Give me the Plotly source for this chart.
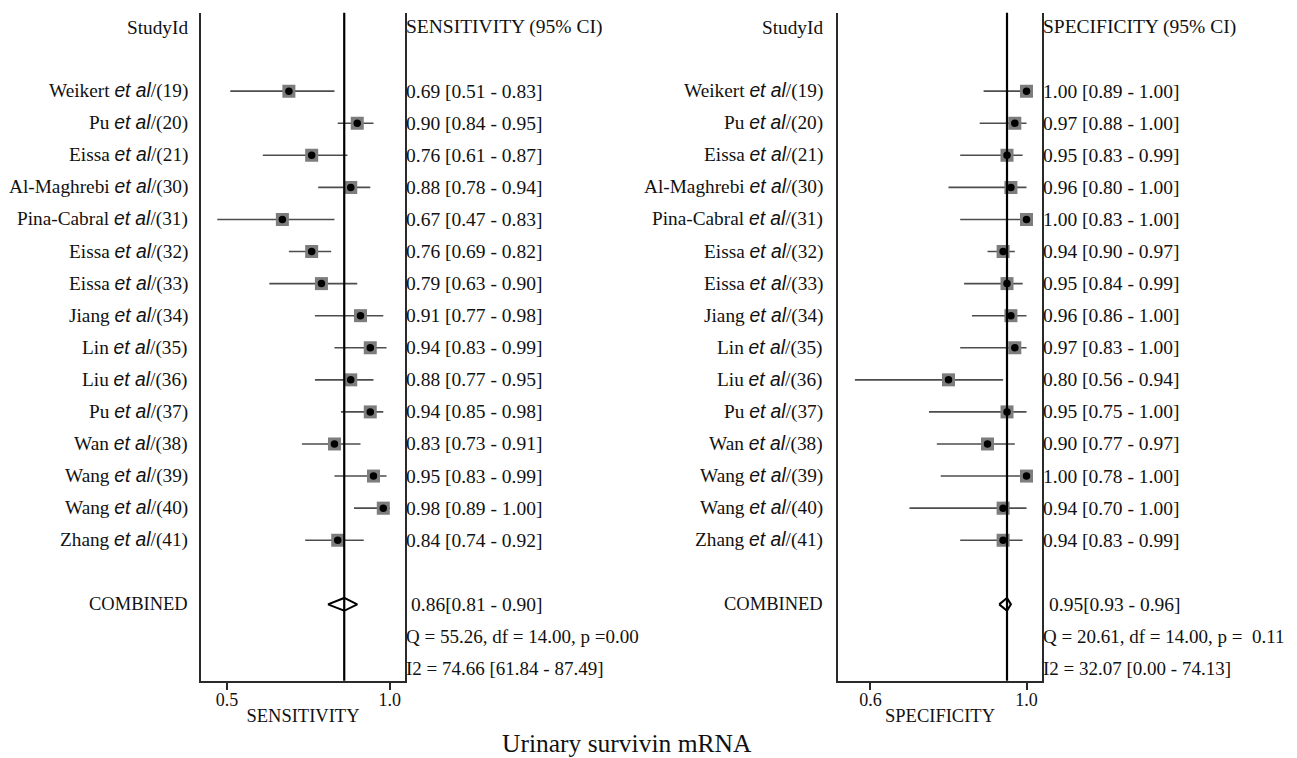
import plotly.graph_objects as go

# ---------------- data ----------------
study_names = ["Weikert", "Pu", "Eissa", "Al-Maghrebi", "Pina-Cabral", "Eissa", "Eissa",
               "Jiang", "Lin", "Liu", "Pu", "Wan", "Wang", "Wang", "Zhang"]
study_refs = [19, 20, 21, 30, 31, 32, 33, 34, 35, 36, 37, 38, 39, 40, 41]

sens_est = [0.69, 0.90, 0.76, 0.88, 0.67, 0.76, 0.79, 0.91, 0.94, 0.88, 0.94, 0.83, 0.95, 0.98, 0.84]
sens_lo = [0.51, 0.84, 0.61, 0.78, 0.47, 0.69, 0.63, 0.77, 0.83, 0.77, 0.85, 0.73, 0.83, 0.89, 0.74]
sens_hi = [0.83, 0.95, 0.87, 0.94, 0.83, 0.82, 0.90, 0.98, 0.99, 0.95, 0.98, 0.91, 0.99, 1.00, 0.92]
sens_pooled = [0.86, 0.81, 0.90]
sens_q = "Q = 55.26, df = 14.00, p =0.00"
sens_i2 = "I2 = 74.66 [61.84 - 87.49]"

spec_est = [1.00, 0.97, 0.95, 0.96, 1.00, 0.94, 0.95, 0.96, 0.97, 0.80, 0.95, 0.90, 1.00, 0.94, 0.94]
spec_lo = [0.89, 0.88, 0.83, 0.80, 0.83, 0.90, 0.84, 0.86, 0.83, 0.56, 0.75, 0.77, 0.78, 0.70, 0.83]
spec_hi = [1.00, 1.00, 0.99, 1.00, 1.00, 0.97, 0.99, 1.00, 1.00, 0.94, 1.00, 0.97, 1.00, 1.00, 0.99]
spec_pooled = [0.95, 0.93, 0.96]
spec_q = "Q = 20.61, df = 14.00, p = \u00a00.11"
spec_i2 = "I2 = 32.07 [0.00 - 74.13]"

sens_ticks = [0.5, 1.0]
spec_ticks = [0.6, 1.0]
title_text = "Urinary survivin mRNA"

# ---------------- layout helpers ----------------
W, H = 1297, 758
SERIF = "Liberation Serif, Times New Roman, serif"
TXT = "#111111"
FS_LAB = 19.3
FS_VAL = 19.5

study_rows = [2 + i for i in range(len(study_names))]
comb_row, q_row, i2_row = 18, 19, 20
y_range = [20.38, -0.446]


def px(x):
    return x / W


fig = go.Figure()

panels = [
    dict(xa="x", ya="y", est=sens_est, lo=sens_lo, hi=sens_hi, pooled=sens_pooled,
         q=sens_q, i2=sens_i2, head="SENSITIVITY (95% CI)", lab_x=190, val_x=404, comb_x=409),
    dict(xa="x2", ya="y2", est=spec_est, lo=spec_lo, hi=spec_hi, pooled=spec_pooled,
         q=spec_q, i2=spec_i2, head="SPECIFICITY (95% CI)", lab_x=825, val_x=1041, comb_x=1047),
]

for p in panels:
    # CI lines
    cx, cy = [], []
    for lo, hi, r in zip(p["lo"], p["hi"], study_rows):
        cx += [lo, hi, None]
        cy += [r, r, None]
    fig.add_trace(go.Scatter(x=cx, y=cy, mode="lines", xaxis=p["xa"], yaxis=p["ya"],
                             line=dict(color="#4d4d4d", width=1.6), hoverinfo="skip",
                             showlegend=False))
    # grey squares
    fig.add_trace(go.Scatter(x=p["est"], y=study_rows, mode="markers", xaxis=p["xa"], yaxis=p["ya"],
                             marker=dict(symbol="square", size=13, color="#7d7d7d",
                                         line=dict(width=0)), showlegend=False))
    # black dots
    fig.add_trace(go.Scatter(x=p["est"], y=study_rows, mode="markers", xaxis=p["xa"], yaxis=p["ya"],
                             marker=dict(symbol="circle", size=7.5, color="#000000",
                                         line=dict(width=0)), showlegend=False))
    # pooled diamond
    e, lo, hi = p["pooled"]
    fig.add_trace(go.Scatter(x=[lo, e, hi, e, lo],
                             y=[comb_row, comb_row - 0.2, comb_row, comb_row + 0.2, comb_row],
                             mode="lines", xaxis=p["xa"], yaxis=p["ya"],
                             line=dict(color="#000000", width=2), showlegend=False))
    # pooled vertical line
    fig.add_shape(type="line", xref=p["xa"], yref=p["ya"] + " domain", x0=e, x1=e, y0=0, y1=1,
                  line=dict(color="#000000", width=2.2), layer="above")

    # text columns
    fig.add_annotation(x=px(p["lab_x"]), y=0, xref="paper", yref=p["ya"], text="StudyId",
                       xanchor="right", yanchor="middle", showarrow=False,
                       font=dict(family=SERIF, size=FS_LAB, color=TXT))
    fig.add_annotation(x=px(p["val_x"]), y=0, xref="paper", yref=p["ya"], text=p["head"],
                       xanchor="left", yanchor="middle", showarrow=False,
                       font=dict(family=SERIF, size=FS_VAL, color=TXT))
    for name, ref, r, es, l, h in zip(study_names, study_refs, study_rows, p["est"], p["lo"], p["hi"]):
        label = (f"{name} <span style='font-family:Liberation Sans, Arial, sans-serif'>"
                 f"<i>et al</i></span>/({ref})")
        fig.add_annotation(x=px(p["lab_x"]), y=r, xref="paper", yref=p["ya"], text=label,
                           xanchor="right", yanchor="middle", showarrow=False,
                           font=dict(family=SERIF, size=FS_LAB, color=TXT))
        fig.add_annotation(x=px(p["val_x"]), y=r, xref="paper", yref=p["ya"],
                           text=f"{es:.2f} [{l:.2f} - {h:.2f}]",
                           xanchor="left", yanchor="middle", showarrow=False,
                           font=dict(family=SERIF, size=FS_VAL, color=TXT))
    fig.add_annotation(x=px(p["lab_x"]), y=comb_row, xref="paper", yref=p["ya"], text="COMBINED",
                       xanchor="right", yanchor="middle", showarrow=False,
                       font=dict(family=SERIF, size=18.5, color=TXT))
    fig.add_annotation(x=px(p["comb_x"]), y=comb_row, xref="paper", yref=p["ya"],
                       text=f"{e:.2f}[{lo:.2f} - {hi:.2f}]",
                       xanchor="left", yanchor="middle", showarrow=False,
                       font=dict(family=SERIF, size=FS_VAL, color=TXT))
    fig.add_annotation(x=px(p["val_x"]), y=q_row, xref="paper", yref=p["ya"], text=p["q"],
                       xanchor="left", yanchor="middle", showarrow=False,
                       font=dict(family=SERIF, size=19, color=TXT))
    fig.add_annotation(x=px(p["val_x"]), y=i2_row, xref="paper", yref=p["ya"], text=p["i2"],
                       xanchor="left", yanchor="middle", showarrow=False,
                       font=dict(family=SERIF, size=19, color=TXT))

fig.add_annotation(x=px(627), y=1 - 743 / H, xref="paper", yref="paper", text=title_text,
                   xanchor="center", yanchor="middle", showarrow=False,
                   font=dict(family=SERIF, size=25.5, color=TXT))

y_dom = [1 - 680.7 / H, 1 - 12.7 / H]
xaxis_common = dict(showgrid=False, zeroline=False, showline=True, linecolor="#2a2a2a", linewidth=2,
                    ticks="outside", ticklen=7, tickwidth=1.5, tickcolor="#2a2a2a",
                    ticklabelstandoff=-5,
                    tickfont=dict(family=SERIF, size=18, color=TXT),
                    title_font=dict(family=SERIF, size=18.5, color=TXT), title_standoff=0)
yaxis_common = dict(range=y_range, domain=y_dom, showgrid=False, zeroline=False, showline=True,
                    mirror=True, linecolor="#2a2a2a", linewidth=2, showticklabels=False, ticks="")

fig.update_layout(
    width=W, height=H, autosize=False,
    margin=dict(l=0, r=0, t=0, b=0),
    paper_bgcolor="white", plot_bgcolor="white",
    showlegend=False,
    xaxis=dict(domain=[px(201), px(405)], range=[0.42, 1.0467], tickvals=sens_ticks,
               ticktext=[f"{t:.1f}" for t in sens_ticks], title_text="SENSITIVITY",
               anchor="y", **xaxis_common),
    yaxis=dict(anchor="x", **yaxis_common),
    xaxis2=dict(domain=[px(838), px(1042)], range=[0.5167, 1.0397], tickvals=spec_ticks,
                ticktext=[f"{t:.1f}" for t in spec_ticks], title_text="SPECIFICITY",
                anchor="y2", **xaxis_common),
    yaxis2=dict(anchor="x2", **yaxis_common),
)

fig.write_html("out.html", config={"displayModeBar": False},
               post_script="document.body.style.margin='0px';")
